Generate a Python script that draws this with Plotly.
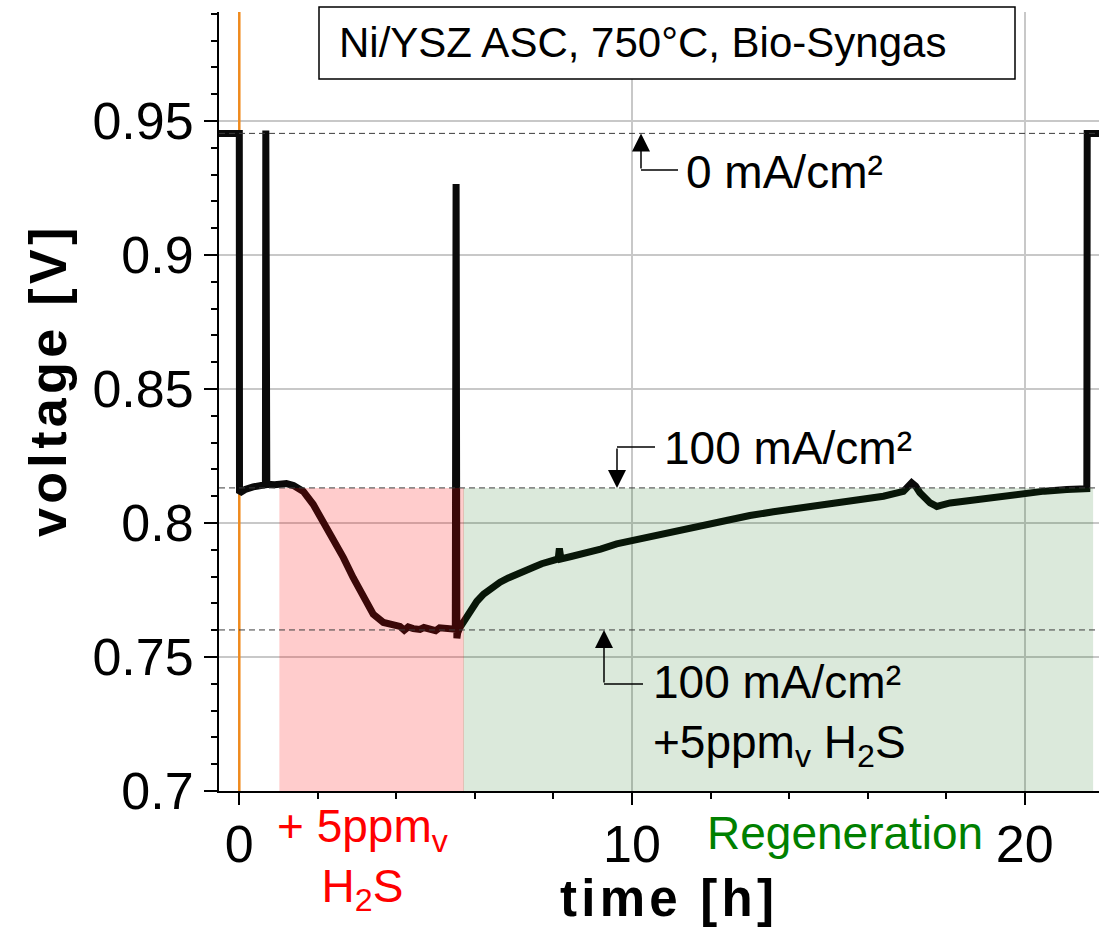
import plotly.graph_objects as go

# ---------------- data ----------------
time_h = [
    -0.52, 0.00, 0.005, 0.15, 0.35, 0.55, 0.665, 0.675, 0.69, 0.70,
    0.9, 1.04, 1.2, 1.38, 1.63, 1.88, 2.14, 2.39, 2.65, 2.90,
    3.16, 3.41, 3.67, 3.85, 4.09, 4.2, 4.3, 4.43, 4.6, 4.7,
    4.85, 5.0, 5.1, 5.28, 5.4, 5.50, 5.52, 5.54, 5.56, 5.62,
    5.70, 5.87, 6.05, 6.22, 6.43, 6.64, 6.85, 7.06, 7.27, 7.49,
    7.70, 7.91, 8.12, 8.15, 8.19, 8.45, 8.76, 9.2, 9.61, 10.0,
    10.46, 10.9, 11.31, 11.7, 12.16, 12.6, 13.0, 13.6, 14.3, 15.0,
    15.55, 16.0, 16.40, 16.91, 17.02, 17.12, 17.22, 17.33, 17.59, 17.76,
    18.10, 18.5, 18.95, 19.5, 20.0, 20.5, 21.07, 21.49, 21.58, 21.59,
    21.95,
]
voltage_V = [
    0.9454, 0.9454, 0.8112, 0.8125, 0.8135, 0.8140, 0.8143, 0.9465, 0.9150, 0.8145,
    0.8143, 0.8146, 0.8147, 0.8140, 0.8118, 0.8070, 0.8007, 0.7945, 0.7871, 0.7796,
    0.7721, 0.7660, 0.7629, 0.7620, 0.7614, 0.7600, 0.7612, 0.7606, 0.7603, 0.7610,
    0.7604, 0.7598, 0.7609, 0.7606, 0.7600, 0.7604, 0.9265, 0.7570, 0.7590, 0.7611,
    0.7628, 0.7673, 0.7708, 0.7735, 0.7760, 0.7779, 0.7795, 0.7810, 0.7823, 0.7835,
    0.7848, 0.7858, 0.7866, 0.7905, 0.7866, 0.7875, 0.7885, 0.7903, 0.7922, 0.7934,
    0.7953, 0.7966, 0.7978, 0.7990, 0.8003, 0.8015, 0.8028, 0.8042, 0.8057, 0.8069,
    0.8080, 0.8089, 0.8100, 0.8118, 0.8140, 0.8150, 0.8138, 0.8113, 0.8075, 0.8062,
    0.8075, 0.8083, 0.8091, 0.8103, 0.8113, 0.8119, 0.8125, 0.8128, 0.8128, 0.9454,
    0.9454,
]

x_tick_vals = [0, 10, 20]
x_tick_text = ["0", "10", "20"]
y_tick_vals = [0.7, 0.75, 0.8, 0.85, 0.9, 0.95]
y_tick_text = ["0.7", "0.75", "0.8", "0.85", "0.9", "0.95"]

start_time = 0.0          # orange marker (start of load)
ocv_level = 0.9454        # 0 mA/cm²
load_level = 0.8131       # 100 mA/cm²
h2s_level = 0.7601        # 100 mA/cm² + 5 ppmv H2S
h2s_start, h2s_end = 1.02, 5.72
regen_start, regen_end = 5.70, 21.74

# ---------------- layout geometry ----------------
W, H = 1099, 930
L, R, T, B = 219, 0, 12, 139
PW, PH = W - L - R, H - T - B
X0, X1 = -0.517, 21.89
Y0, Y1 = 0.70, 0.9907


def px_x(px):
    return X0 + (px - L) / PW * (X1 - X0)


def px_y(py):
    return Y1 - (py - T) / PH * (Y1 - Y0)


def paper_x(px):
    return (px - L) / PW


def paper_y(py):
    return (T + PH - py) / PH


FONT = "Liberation Sans, Arial, sans-serif"
HS = "\u200a"

fig = go.Figure()
# orange marker at t=0 (drawn first, so the voltage curve lies on top)
fig.add_trace(go.Scatter(
    x=[start_time, start_time], y=[Y0, Y1], mode="lines",
    line=dict(color="#F08A1C", width=2.5),
    showlegend=False, hoverinfo="skip", cliponaxis=True,
))
fig.add_trace(go.Scatter(
    x=time_h, y=voltage_V, mode="lines",
    line=dict(color="#0a0a0a", width=7),
    showlegend=False, hoverinfo="skip",
))

shapes = []
# shaded phases
shapes.append(dict(type="rect", xref="x", yref="y", x0=h2s_start, x1=h2s_end,
                   y0=Y0, y1=load_level, fillcolor="rgba(255,0,0,0.2)",
                   line=dict(width=0), layer="above"))
shapes.append(dict(type="rect", xref="x", yref="y", x0=regen_start, x1=regen_end,
                   y0=Y0, y1=load_level, fillcolor="rgba(0,100,0,0.14)",
                   line=dict(width=0), layer="above"))
# dashed reference levels
for lvl in (ocv_level, load_level, h2s_level):
    shapes.append(dict(type="line", xref="paper", yref="y", x0=0, x1=1, y0=lvl, y1=lvl,
                       line=dict(color="#3c3c3c", width=1, dash="6px,4px"), layer="above"))

# elbow connectors
elbows = [
    (641, 678, 170),
    (617, 655, 447),
    (604, 643, 684),
]
for xa, xb, yy in elbows:
    shapes.append(dict(type="line", xref="x", yref="y", x0=px_x(xa), x1=px_x(xb),
                       y0=px_y(yy), y1=px_y(yy), line=dict(color="black", width=1.5),
                       layer="above"))

# title box
shapes.append(dict(type="rect", xref="paper", yref="paper",
                   x0=paper_x(319), x1=paper_x(1015), y0=paper_y(79), y1=paper_y(7),
                   fillcolor="white", line=dict(color="black", width=1.5), layer="above"))

annotations = []
# arrows (tip on the level, tail at elbow)
arrows = [
    (641, 170, ocv_level),
    (617, 447, load_level),
    (604, 684, h2s_level),
]
for xa, yy, tip in arrows:
    annotations.append(dict(x=px_x(xa), y=tip, ax=px_x(xa), ay=px_y(yy),
                            xref="x", yref="y", axref="x", ayref="y",
                            text="", showarrow=True, arrowhead=2, arrowsize=2.4,
                            arrowwidth=1.5, arrowcolor="black"))

annotations += [
    dict(x=paper_x(337), y=paper_y(43), xref="paper", yref="paper",
         text="Ni/YSZ ASC, 750°C, Bio-Syngas", showarrow=False,
         xanchor="left", yanchor="middle", font=dict(family=FONT, size=42, color="black")),
    dict(x=px_x(684), y=px_y(172), xref="x", yref="y", text="0 mA/cm²",
         showarrow=False, xanchor="left", yanchor="middle",
         font=dict(family=FONT, size=46, color="black")),
    dict(x=px_x(662), y=px_y(448), xref="x", yref="y", text="100 mA/cm²",
         showarrow=False, xanchor="left", yanchor="middle",
         font=dict(family=FONT, size=46, color="black")),
    dict(x=px_x(651), y=px_y(654), xref="x", yref="y",
         text="100 mA/cm²<br>+5ppm<sub>v</sub> H<sub>2</sub>S",
         showarrow=False, xanchor="left", yanchor="top", align="left",
         font=dict(family=FONT, size=46, color="black")),
    dict(x=paper_x(362), y=paper_y(798), xref="paper", yref="paper",
         text="+ 5ppm<sub>v</sub><br>H<sub>2</sub>S",
         showarrow=False, xanchor="center", yanchor="top", align="center",
         font=dict(family=FONT, size=46, color="#FF0000")),
    dict(x=paper_x(845), y=paper_y(833), xref="paper", yref="paper",
         text="Regeneration", showarrow=False, xanchor="center", yanchor="middle",
         font=dict(family=FONT, size=46, color="#008000")),
    dict(x=paper_x(667), y=paper_y(899), xref="paper", yref="paper",
         text=HS.join("time [h]"), showarrow=False, xanchor="center", yanchor="middle",
         font=dict(family=FONT, size=51, color="black", weight="bold")),
    dict(x=paper_x(48), y=paper_y(383), xref="paper", yref="paper",
         text=HS.join("voltage [V]"), showarrow=False, textangle=-90,
         xanchor="center", yanchor="middle",
         font=dict(family=FONT, size=52, color="black", weight="bold")),
]

fig.update_layout(
    width=W, height=H,
    margin=dict(l=L, r=R, t=T, b=B, pad=0, autoexpand=False),
    paper_bgcolor="white", plot_bgcolor="white",
    shapes=shapes, annotations=annotations,
    showlegend=False,
    font=dict(family=FONT, color="black"),
)
fig.update_xaxes(
    range=[X0, X1], showgrid=True, gridcolor="#c8c8c8", gridwidth=2,
    tickvals=x_tick_vals, ticktext=x_tick_text,
    ticks="outside", ticklen=12, tickwidth=2, tickcolor="black",
    ticklabelstandoff=-5,
    minor=dict(dtick=2, tick0=0, ticks="outside", ticklen=6, tickwidth=2,
               tickcolor="black", showgrid=False),
    showline=True, linecolor="black", linewidth=2, zeroline=False,
    tickfont=dict(family=FONT, size=52, color="black"),
)
fig.update_yaxes(
    range=[Y0, Y1], showgrid=True, gridcolor="#c8c8c8", gridwidth=2,
    tickvals=y_tick_vals, ticktext=y_tick_text,
    ticks="outside", ticklen=13, tickwidth=2, tickcolor="black",
    minor=dict(dtick=0.01, tick0=0.7, ticks="outside", ticklen=6, tickwidth=2,
               tickcolor="black", showgrid=False),
    showline=True, linecolor="black", linewidth=2, zeroline=False,
    tickfont=dict(family=FONT, size=52, color="black"),
)

fig.write_html("out.html")
